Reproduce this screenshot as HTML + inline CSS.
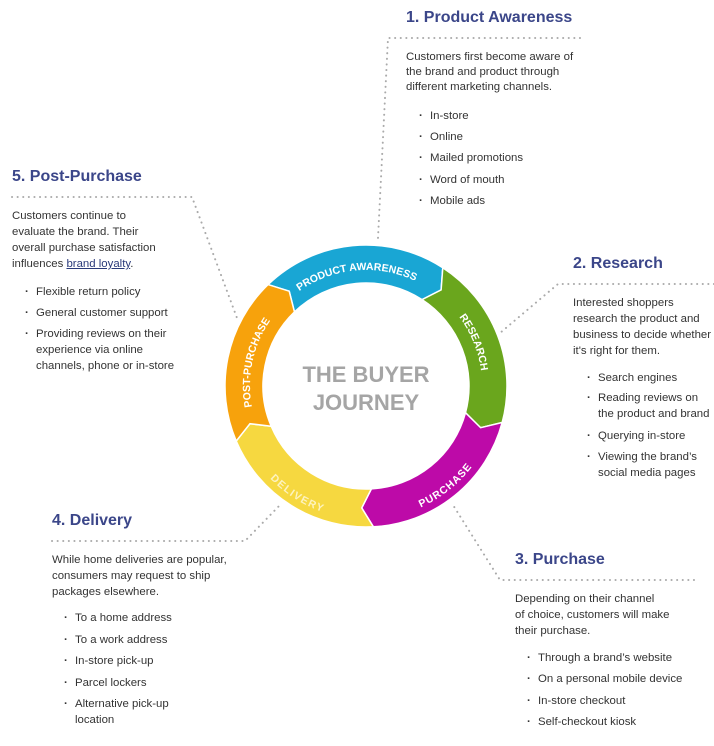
<!DOCTYPE html>
<html><head><meta charset="utf-8"><style>
html,body{margin:0;padding:0;background:#fff;}
body{width:714px;height:746px;position:relative;overflow:hidden;font-family:"Liberation Sans",sans-serif;color:#333;}
.h{position:absolute;font-weight:bold;font-size:16px;color:#3b4689;white-space:nowrap;line-height:20px;}
.p{position:absolute;font-size:11.4px;line-height:16px;white-space:nowrap;color:#333;}
.b{position:absolute;font-size:11.4px;line-height:16px;white-space:nowrap;color:#333;}
.b:before{content:"·";position:absolute;left:-11px;font-weight:bold;}
a{color:#2a3a7a;text-decoration:underline;}
svg{position:absolute;left:0;top:0;}
</style></head><body>
<svg width="714" height="746" viewBox="0 0 714 746">
<g fill="none" stroke="#aaa" stroke-width="2" stroke-linecap="round" stroke-dasharray="0.1 5.5">
<path d="M580 38 L388 38 L378 238"/>
<path d="M12 197 L192 197 L237 318"/>
<path d="M714 284 L558 284 L500 333"/>
<path d="M52 541 L245 541 L280 505"/>
<path d="M694 580 L500 580 L453 505"/>
</g>
<g stroke="#fff" stroke-width="1.5">
<path fill="#19a6d4" d="M268.05 284.58 A141 141 0 0 1 442.79 267.74 L441.12 289.86 L422.09 299.61 A103 103 0 0 0 294.45 311.91 L289.23 291.19 Z"/>
<path fill="#6aa61d" d="M442.79 267.74 A141 141 0 0 1 502.19 422.49 L480.64 427.72 L465.49 412.66 A103 103 0 0 0 422.09 299.61 L441.12 289.86 Z"/>
<path fill="#bd0aa8" d="M502.19 422.49 A141 141 0 0 1 373.37 526.80 L361.74 507.93 L371.39 488.86 A103 103 0 0 0 465.49 412.66 L480.64 427.72 Z"/>
<path fill="#f6d840" d="M373.37 526.80 A141 141 0 0 1 236.21 441.09 L249.97 423.70 L271.19 426.24 A103 103 0 0 0 371.39 488.86 L361.74 507.93 Z"/>
<path fill="#f7a20c" d="M236.21 441.09 A141 141 0 0 1 268.05 284.58 L289.23 291.19 L294.45 311.91 A103 103 0 0 0 271.19 426.24 L249.97 423.70 Z"/>
</g>
<defs>
<path id="pa" d="M291.44 297.14 A116 116 0 0 1 424 285.54"/>
<path id="pb" d="M434.18 292.16 A116 116 0 0 1 480.24 406.14"/>
<path id="pc" d="M376.99 511.52 A126 126 0 0 0 485.84 424.93"/>
<path id="pd" d="M251.81 439.25 A126 126 0 0 0 366 512"/>
<path id="pe" d="M257.0 425.67 A116 116 0 0 1 282.56 305.41"/>
</defs>
<g fill="#fff" font-family="Liberation Sans,sans-serif" font-weight="bold" font-size="10.5" text-anchor="middle">
<text><textPath href="#pa" startOffset="50%">PRODUCT AWARENESS</textPath></text>
<text><textPath href="#pb" startOffset="50%">RESEARCH</textPath></text>
<text letter-spacing="0.5"><textPath href="#pc" startOffset="50%" dominant-baseline="hanging">PURCHASE</textPath></text>
<text letter-spacing="1" fill="#fdf3c0"><textPath href="#pd" startOffset="50%" dominant-baseline="hanging">DELIVERY</textPath></text>
<text><textPath href="#pe" startOffset="50%">POST-PURCHASE</textPath></text>
</g>
<g fill="#a5a5a5" font-family="Liberation Sans,sans-serif" font-weight="bold" font-size="22" text-anchor="middle">
<text x="366" y="382">THE BUYER</text>
<text x="366" y="410">JOURNEY</text>
</g>
</svg>

<div class="h" style="left:406px;top:8px;">1. Product Awareness</div>
<div class="p" style="left:406px;top:50px;line-height:15px;">Customers first become aware of<br>the brand and product through<br>different marketing channels.</div>
<div class="b" style="left:430px;top:108px;">In-store</div>
<div class="b" style="left:430px;top:129px;">Online</div>
<div class="b" style="left:430px;top:150px;">Mailed promotions</div>
<div class="b" style="left:430px;top:172px;">Word of mouth</div>
<div class="b" style="left:430px;top:193px;">Mobile ads</div>

<div class="h" style="left:12px;top:167px;">5. Post-Purchase</div>
<div class="p" style="left:12px;top:208px;">Customers continue to<br>evaluate the brand. Their<br>overall purchase satisfaction<br>influences <a>brand loyalty</a>.</div>
<div class="b" style="left:36px;top:284px;">Flexible return policy</div>
<div class="b" style="left:36px;top:305px;">General customer support</div>
<div class="b" style="left:36px;top:326px;">Providing reviews on their<br>experience via online<br>channels, phone or in-store</div>

<div class="h" style="left:573px;top:254px;">2. Research</div>
<div class="p" style="left:573px;top:295px;">Interested shoppers<br>research the product and<br>business to decide whether<br>it's right for them.</div>
<div class="b" style="left:598px;top:370px;">Search engines</div>
<div class="b" style="left:598px;top:390px;">Reading reviews on<br>the product and brand</div>
<div class="b" style="left:598px;top:428px;">Querying in-store</div>
<div class="b" style="left:598px;top:449px;">Viewing the brand’s<br>social media pages</div>

<div class="h" style="left:52px;top:511px;">4. Delivery</div>
<div class="p" style="left:52px;top:552px;">While home deliveries are popular,<br>consumers may request to ship<br>packages elsewhere.</div>
<div class="b" style="left:75px;top:610px;">To a home address</div>
<div class="b" style="left:75px;top:632px;">To a work address</div>
<div class="b" style="left:75px;top:653px;">In-store pick-up</div>
<div class="b" style="left:75px;top:675px;">Parcel lockers</div>
<div class="b" style="left:75px;top:696px;">Alternative pick-up<br>location</div>

<div class="h" style="left:515px;top:550px;">3. Purchase</div>
<div class="p" style="left:515px;top:591px;">Depending on their channel<br>of choice, customers will make<br>their purchase.</div>
<div class="b" style="left:538px;top:650px;">Through a brand’s website</div>
<div class="b" style="left:538px;top:671px;">On a personal mobile device</div>
<div class="b" style="left:538px;top:693px;">In-store checkout</div>
<div class="b" style="left:538px;top:714px;">Self-checkout kiosk</div>
</body></html>
